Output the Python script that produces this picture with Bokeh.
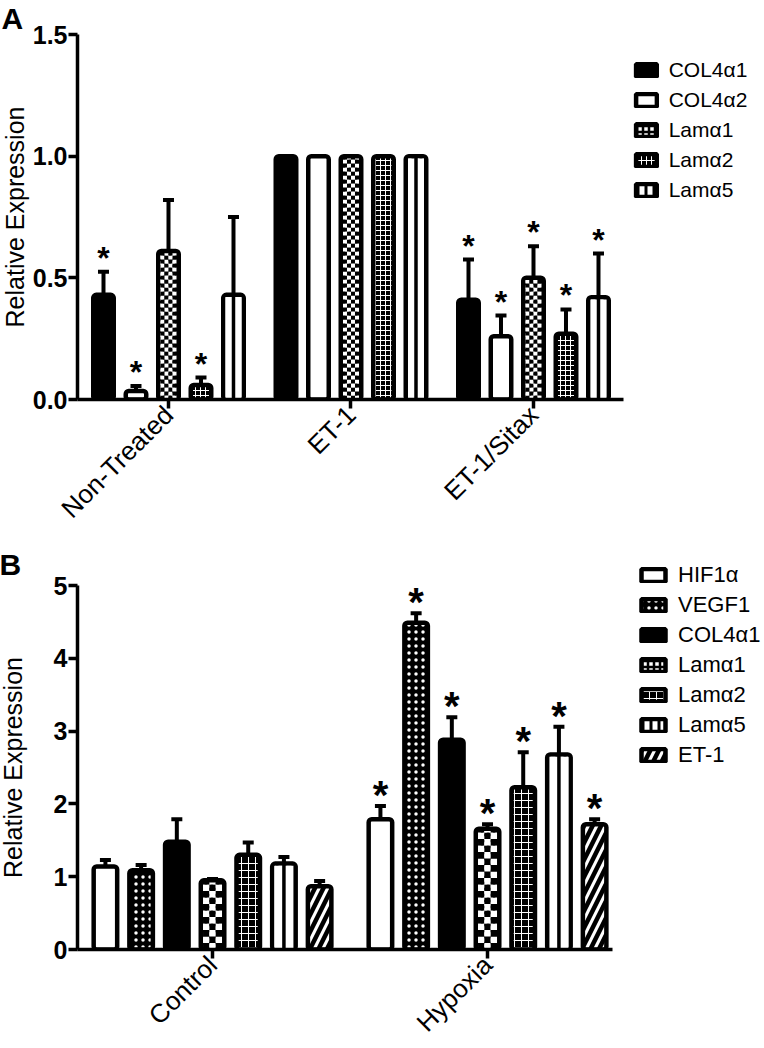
from math import pi
from bokeh.plotting import figure
from bokeh.models import (Range1d, FixedTicker, Whisker, TeeHead, Legend, LegendItem,
                          ColumnDataSource, NumeralTickFormatter)
from bokeh.layouts import column
from bokeh.embed import file_html
from bokeh.resources import INLINE
from bokeh.core.properties import value

FONT = "Liberation Sans"

# ---------------- Panel A data ----------------
groups_a = ["Non-Treated", "ET-1", "ET-1/Sitax"]
series_a = ["COL4α1", "COL4α2", "Lamα1", "Lamα2", "Lamα5"]
col4a1_a = [0.43, 1.0, 0.41]
col4a1_a_err = [0.095, 0.0, 0.165]
col4a2_a = [0.035, 1.0, 0.26]
col4a2_a_err = [0.02, 0.0, 0.085]
lama1_a = [0.61, 1.0, 0.50]
lama1_a_err = [0.21, 0.0, 0.13]
lama2_a = [0.06, 1.0, 0.27]
lama2_a_err = [0.03, 0.0, 0.10]
lama5_a = [0.43, 1.0, 0.42]
lama5_a_err = [0.32, 0.0, 0.18]
sig_col4a1_a = [1, 0, 1]
sig_col4a2_a = [1, 0, 1]
sig_lama1_a = [0, 0, 1]
sig_lama2_a = [1, 0, 1]
sig_lama5_a = [0, 0, 1]
yticks_a = [0.0, 0.5, 1.0, 1.5]

# ---------------- Panel B data ----------------
groups_b = ["Control", "Hypoxia"]
series_b = ["HIF1α", "VEGF1", "COL4α1", "Lamα1", "Lamα2", "Lamα5", "ET-1"]
hif1a_b = [1.14, 1.79]
hif1a_b_err = [0.09, 0.18]
vegf1_b = [1.09, 4.49]
vegf1_b_err = [0.07, 0.13]
col4a1_b = [1.48, 2.88]
col4a1_b_err = [0.31, 0.31]
lama1_b = [0.95, 1.66]
lama1_b_err = [0.02, 0.06]
lama2_b = [1.30, 2.23]
lama2_b_err = [0.17, 0.48]
lama5_b = [1.18, 2.68]
lama5_b_err = [0.09, 0.38]
et1_b = [0.87, 1.72]
et1_b_err = [0.07, 0.07]
sig_b = [0, 1]
yticks_b = [0, 1, 2, 3, 4, 5]

LW = 4.5  # bar outline width in px


def style_axes(p, yticks, fmt):
    p.xgrid.visible = False
    p.ygrid.visible = False
    p.outline_line_color = None
    p.background_fill_color = "white"
    for ax in (p.xaxis[0], p.yaxis[0]):
        ax.axis_line_width = 3.5
        ax.major_tick_line_width = 3.5
        ax.major_tick_out = 9
        ax.major_tick_in = 0
        ax.minor_tick_line_color = None
        ax.axis_line_color = "black"
        ax.major_tick_line_color = "black"
    p.yaxis.ticker = FixedTicker(ticks=yticks)
    p.yaxis.formatter = NumeralTickFormatter(format=fmt)
    p.yaxis.major_label_text_font = FONT
    p.yaxis.major_label_text_font_size = "25px"
    p.yaxis.major_label_text_font_style = "bold"
    p.yaxis.major_label_text_color = "black"
    p.yaxis.major_label_standoff = 1
    p.yaxis.axis_label = "Relative Expression"
    p.yaxis.axis_label_text_font = FONT
    p.yaxis.axis_label_text_font_size = "25px"
    p.yaxis.axis_label_text_font_style = "normal"
    p.yaxis.axis_label_text_color = "black"
    p.xaxis.major_label_text_font = FONT
    p.xaxis.major_label_text_font_size = "26px"
    p.xaxis.major_label_text_color = "black"
    p.xaxis.major_label_orientation = pi / 4
    p.xaxis.major_label_standoff = 2
    p.title.text_font = FONT
    p.title.text_font_size = "30px"
    p.title.text_font_style = "bold"
    p.title.text_color = "black"
    p.title.align = "left"


def inner_box(xc, v, width, px, py):
    half_in = width / 2 - (LW / 2) / px
    return xc - half_in, xc + half_in, v - (LW / 2) / py


def checker_cells(xs, vals, width, px, py, ncols, ch_px):
    """Checkerboard cells filling the inside of each bar (derived from the bar values)."""
    ch = ch_px / py
    L, R, B, T, C = [], [], [], [], []
    for xc, v in zip(xs, vals):
        left, right, ytop = inner_box(xc, v, width, px, py)
        cw = (right - left) / ncols
        r = 0
        while r * ch < ytop:
            b = r * ch
            t = min(b + ch, ytop)
            for c in range(ncols):
                L.append(left + c * cw)
                R.append(left + (c + 1) * cw)
                B.append(b)
                T.append(t)
                C.append("black" if (r + c) % 2 == 0 else "white")
            r += 1
    return dict(left=L, right=R, bottom=B, top=T, color=C)


def plain_cells(xs, vals, width, px, py):
    L, R, T = [], [], []
    for xc, v in zip(xs, vals):
        left, right, ytop = inner_box(xc, v, width, px, py)
        L.append(left)
        R.append(right)
        T.append(ytop)
    return dict(left=L, right=R, bottom=[0] * len(L), top=T)


def draw_panel(p, groups, names, vals, errs, sigs, styles, step, width, px, py,
               star_size, star_off):
    n = len(names)
    items = []
    for i, (nm, v, e, s, st) in enumerate(zip(names, vals, errs, sigs, styles)):
        off = (i - (n - 1) / 2) * step
        xs = [g + off for g in range(len(groups))]
        src = ColumnDataSource(dict(x=xs, val=v))
        kw = dict(fill_color=st.get("fill", "white"), line_color="black", line_width=LW,
                  border_radius=3)
        if "hatch" in st:
            kw.update(hatch_pattern=st["hatch"], hatch_color=st["hcolor"],
                      hatch_weight=st["hweight"], hatch_scale=st["hscale"])
        r = p.vbar(x="x", top="val", bottom=0, width=width, source=src, **kw)
        if st.get("checker"):
            ncols, ch_px = st["checker"]
            p.quad(source=ColumnDataSource(checker_cells(xs, v, width, px, py, ncols, ch_px)),
                   left="left", right="right", bottom="bottom", top="top",
                   fill_color="color", line_color=None)
        if st.get("midline"):
            p.quad(source=ColumnDataSource(plain_cells(xs, v, width, px, py)),
                   left="left", right="right", bottom="bottom", top="top",
                   fill_color="white", line_color=None)
            p.segment(x0="x", y0=0, x1="x", y1="val", line_width=3.5, line_color="black",
                      source=src)
        keep = [k for k in range(len(v)) if e[k] > 0]
        wsrc = ColumnDataSource(dict(x=[xs[k] for k in keep], lo=[v[k] for k in keep],
                                     up=[v[k] + e[k] for k in keep]))
        w = Whisker(source=wsrc, base="x", lower="lo", upper="up", dimension="height",
                    line_width=4, line_color="black", lower_head=None,
                    upper_head=TeeHead(size=11, line_width=4, line_color="black"))
        p.add_layout(w)
        ks = [k for k in range(len(v)) if s[k]]
        ssrc = ColumnDataSource(dict(x=[xs[k] for k in ks], y=[v[k] + e[k] for k in ks]))
        p.text(x="x", y="y", text=value("*"), source=ssrc, text_font=value(FONT),
               text_font_size=star_size, text_font_style="bold", text_align="center",
               text_baseline="middle", y_offset=star_off, text_color="black")
        items.append(LegendItem(label=nm, renderers=[r]))
    return items


def make_legend(items, loc, gw, fs="22px"):
    return Legend(items=items, location=loc, border_line_color=None, background_fill_alpha=0,
                  glyph_width=gw, glyph_height=16, label_text_font=FONT,
                  label_text_font_size=fs, label_standoff=10, spacing=0, padding=0,
                  margin=0, label_height=30, label_text_color="black")


CHECK_STYLE = {"hatch": "+", "hcolor": "black", "hweight": 2.5, "hscale": 6}
COLS_STYLE = {"hatch": "|", "hcolor": "black", "hweight": 3, "hscale": 8}

# ---------------- Panel A ----------------
pxA = 182.5
pyA = 243.3
x0A = -0.4986
pA = figure(frame_width=680, frame_height=365, min_border_left=82, min_border_top=42,
            min_border_right=0, min_border_bottom=20,
            x_range=Range1d(x0A, x0A + 680 / pxA), y_range=Range1d(0, 1.5),
            output_backend="svg", toolbar_location=None, title="A")
style_axes(pA, yticks_a, "0.0")
pA.xaxis.bounds = (x0A, x0A + 546 / pxA)
pA.xaxis.ticker = FixedTicker(ticks=list(range(len(groups_a))))
pA.xaxis.major_label_overrides = {i: g for i, g in enumerate(groups_a)}
pA.yaxis.axis_label_standoff = 1
pA.title.offset = -76
pA.title.standoff = 0

stylesA = [
    {"fill": "black"},
    {"fill": "white"},
    dict(fill="white", checker=(4, 4), **CHECK_STYLE),
    {"fill": "black", "hatch": "+", "hcolor": "white", "hweight": 1, "hscale": 5},
    dict(fill="white", midline=True, **COLS_STYLE),
]
itemsA = draw_panel(pA, groups_a, series_a,
                    [col4a1_a, col4a2_a, lama1_a, lama2_a, lama5_a],
                    [col4a1_a_err, col4a2_a_err, lama1_a_err, lama2_a_err, lama5_a_err],
                    [sig_col4a1_a, sig_col4a2_a, sig_lama1_a, sig_lama2_a, sig_lama5_a],
                    stylesA, 32.5 / pxA, 20.5 / pxA, pxA, pyA, "32px", -14)
pA.add_layout(make_legend(itemsA, (560, 194), 26, "21px"))

# ---------------- Panel B ----------------
pxB = 275.0
x0B = -0.491
pyB = 72.8
pB = figure(frame_width=535, frame_height=364, min_border_left=85, min_border_top=48,
            min_border_right=142, min_border_bottom=20,
            x_range=Range1d(x0B, x0B + 535 / pxB), y_range=Range1d(0, 5),
            output_backend="svg", toolbar_location=None, title="B")
style_axes(pB, yticks_b, "0")
pB.xaxis.ticker = FixedTicker(ticks=list(range(len(groups_b))))
pB.xaxis.major_label_overrides = {i: g for i, g in enumerate(groups_b)}
pB.yaxis.axis_label_standoff = 24
pB.title.offset = -78
pB.title.standoff = 10

stylesB = [
    {"fill": "white"},
    {"fill": "black", "hatch": ".", "hcolor": "white", "hweight": 2, "hscale": 7},
    {"fill": "black"},
    dict(fill="white", checker=(3, 6.5), **CHECK_STYLE),
    {"fill": "black", "hatch": "+", "hcolor": "white", "hweight": 1, "hscale": 7},
    dict(fill="white", midline=True, **COLS_STYLE),
    {"fill": "white", "hatch": "/", "hcolor": "black", "hweight": 4.5, "hscale": 17},
]
itemsB = draw_panel(pB, groups_b, series_b,
                    [hif1a_b, vegf1_b, col4a1_b, lama1_b, lama2_b, lama5_b, et1_b],
                    [hif1a_b_err, vegf1_b_err, col4a1_b_err, lama1_b_err, lama2_b_err,
                     lama5_b_err, et1_b_err],
                    [sig_b] * 7,
                    stylesB, 35.7 / pxB, 23.5 / pxB, pxB, pyB, "40px", -11)
pB.add_layout(make_legend(itemsB, (26, 179), 30), "right")

layout = column(pA, pB, spacing=0,
                styles={"position": "relative", "left": "-8px", "top": "-8px"})
open("out.html", "w").write(file_html(layout, INLINE))
